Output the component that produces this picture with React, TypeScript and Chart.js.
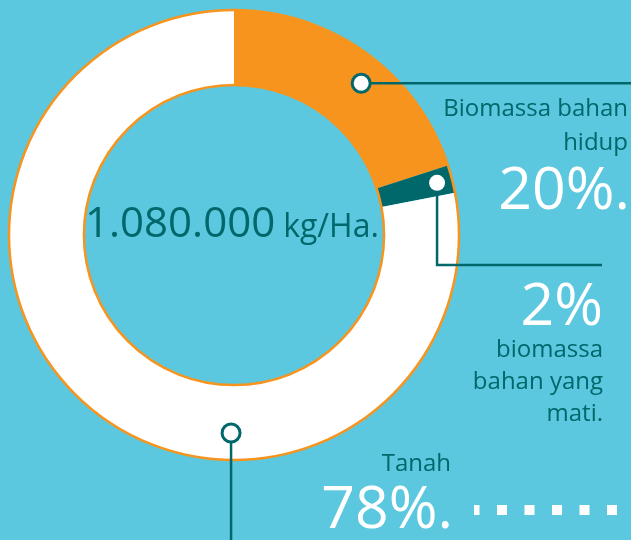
import React, { useEffect, useRef } from "react";
import { Chart, registerables } from "chart.js";

Chart.register(...registerables);

const categories = ["Biomassa bahan hidup", "Biomassa bahan yang mati", "Tanah"];
const values = [20, 2, 78];
const sliceColors = ["#F7941D", "#00676B", "#FFFFFF"];
const totalLabel = "1.080.000";
const unitLabel = "kg/Ha.";

const BG = "#5BC8DF";
const TEAL = "#00676B";
const ORANGE = "#F7941D";
const FONT = "'Open Sans', 'Noto Sans', sans-serif";

const overlayPlugin = {
  id: "overlay",
  afterDatasetsDraw(chart: any) {
    const ctx = chart.ctx as CanvasRenderingContext2D;
    const arcs = chart.getDatasetMeta(0).data as any[];
    if (!arcs.length) return;
    const a0 = arcs[0];
    const cx = a0.x, cy = a0.y, outer = a0.outerRadius, inner = a0.innerRadius;

    const pt = (i: number, frac: number, rFrac: number) => {
      const a = arcs[i];
      const ang = a.startAngle + frac * (a.endAngle - a.startAngle);
      const r = inner + rFrac * (outer - inner);
      return { x: cx + Math.cos(ang) * r, y: cy + Math.sin(ang) * r };
    };

    ctx.save();
    // ring outlines
    ctx.strokeStyle = ORANGE;
    ctx.lineWidth = 2.5;
    ctx.beginPath();
    ctx.arc(cx, cy, outer, 0, Math.PI * 2);
    ctx.stroke();
    ctx.beginPath();
    ctx.arc(cx, cy, inner, 0, Math.PI * 2);
    ctx.stroke();

    // centre text
    ctx.fillStyle = TEAL;
    ctx.textBaseline = "alphabetic";
    ctx.textAlign = "left";
    ctx.font = `42px ${FONT}`;
    const startX = cx - 149;
    ctx.fillText(totalLabel, startX, cy + 2);
    const w = ctx.measureText(totalLabel).width;
    ctx.font = `32px ${FONT}`;
    ctx.fillText(unitLabel, startX + w + 8, cy + 2);

    // marker lines
    ctx.strokeStyle = TEAL;
    ctx.lineWidth = 2.5;
    const p0 = pt(0, 0.555, 0.64);
    ctx.beginPath();
    ctx.moveTo(p0.x, p0.y);
    ctx.lineTo(631, p0.y);
    ctx.stroke();

    const p1 = pt(1, 0.5, 0.795);
    ctx.beginPath();
    ctx.moveTo(p1.x, p1.y);
    ctx.lineTo(p1.x, 265);
    ctx.lineTo(602, 265);
    ctx.stroke();

    const p2 = pt(2, 0.362, 0.64);
    ctx.beginPath();
    ctx.moveTo(p2.x, p2.y);
    ctx.lineTo(p2.x, 540);
    ctx.stroke();

    // marker circles
    ctx.fillStyle = "#FFFFFF";
    ctx.lineWidth = 3;
    ctx.beginPath();
    ctx.arc(p0.x, p0.y, 9, 0, Math.PI * 2);
    ctx.fill();
    ctx.stroke();
    ctx.beginPath();
    ctx.arc(p1.x, p1.y, 8, 0, Math.PI * 2);
    ctx.fill();
    ctx.beginPath();
    ctx.arc(p2.x, p2.y, 9, 0, Math.PI * 2);
    ctx.fill();
    ctx.stroke();

    // right-side labels
    ctx.textAlign = "right";
    ctx.fillStyle = TEAL;
    ctx.font = `24px ${FONT}`;
    ctx.fillText("Biomassa bahan", 628, 116);
    ctx.fillText("hidup", 628, 150);
    ctx.fillStyle = "#FFFFFF";
    ctx.font = `59px ${FONT}`;
    ctx.fillText(`${values[0]}%.`, 630, 209);

    ctx.fillText(`${values[1]}%`, 603, 325);
    ctx.fillStyle = TEAL;
    ctx.font = `24px ${FONT}`;
    ctx.fillText("biomassa", 603, 357);
    ctx.fillText("bahan yang", 603, 389);
    ctx.fillText("mati.", 603, 421);

    ctx.fillText("Tanah", 451, 471);
    ctx.fillStyle = "#FFFFFF";
    ctx.font = `59px ${FONT}`;
    ctx.fillText(`${values[2]}%.`, 453, 528);

    // dotted line
    ctx.strokeStyle = "#FFFFFF";
    ctx.lineWidth = 10;
    ctx.setLineDash([10, 17.5]);
    ctx.lineDashOffset = 4.5;
    ctx.beginPath();
    ctx.moveTo(474, 510);
    ctx.lineTo(631, 510);
    ctx.stroke();
    ctx.restore();
  },
};

export default function App() {
  const ref = useRef<HTMLCanvasElement>(null);
  useEffect(() => {
    document.body.style.margin = "0";
    document.body.style.background = BG;
    const chart = new Chart(ref.current as HTMLCanvasElement, {
      type: "doughnut",
      data: {
        labels: categories,
        datasets: [
          {
            data: values,
            backgroundColor: sliceColors,
            borderWidth: 0,
          },
        ],
      },
      options: {
        animation: false,
        responsive: false,
        cutout: "66.7%",
        layout: { padding: { left: 9, top: 10, right: 172, bottom: 80 } },
        plugins: { legend: { display: false }, tooltip: { enabled: false } },
      },
      plugins: [overlayPlugin],
    });
    return () => chart.destroy();
  }, []);
  return (
    <div style={{ width: 631, height: 540, background: BG }}>
      <canvas ref={ref} width={631} height={540} style={{ display: "block" }} />
    </div>
  );
}
